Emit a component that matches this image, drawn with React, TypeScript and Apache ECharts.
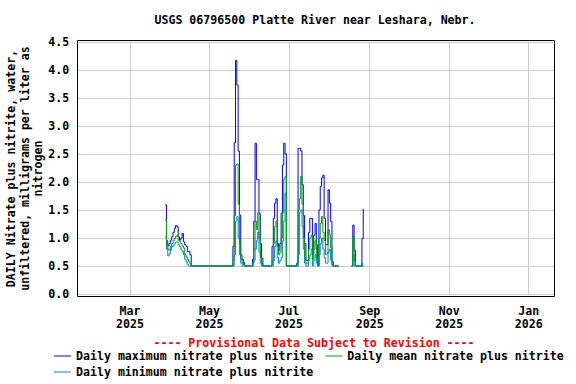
import React, { useEffect, useRef } from 'react';
import * as echarts from 'echarts';

// First daily value is for 2025-03-28; one value per day, null = no data.
const firstDay = [2025, 3, 28];

const dailyMax = [
  1.59, 0.95, 0.86, 0.9, 0.96, 1.02, 1.1, 1.17, 1.22, 1.2, 1.02, 0.96, 1.0, 1.08, 0.93, 0.88, 0.85, 0.76, 0.76, 0.7, 0.5,
  0.5, 0.5, 0.5, 0.5, 0.5, 0.5, 0.5, 0.5, 0.5, 0.5,
  0.5, 0.5, 0.5, 0.5, 0.5, 0.5, 0.5, 0.5, 0.5, 0.5,
  0.5, 0.5, 0.5, 0.5, 0.5, 0.5, 0.5, 0.5, 0.5, 0.5,
  0.5,
  0.85, 2.7, 4.17, 3.73, 2.55, 1.41, 0.7, 0.62, 0.56, 0.5,
  0.5, 0.5, 0.5, 0.5, 0.5,
  0.62, 1.3, 2.69, 2.04, 2.04, 1.44, 0.9, 0.64, 0.5,
  0.5, 0.5, 0.5, 0.5, 0.5, 0.5,
  0.85, 1.35, 1.62, 1.7, 0.9, 0.78, 0.9, 1.44, 2.3, 2.69, 2.5, 0.5,
  0.5, 0.5, 0.5, 0.5, 0.5, 0.5, 0.5,
  0.55, 2.6, 2.6, 2.55, 1.95, 1.4, 0.9,
  0.6, 0.6, 1.1, 1.35, 1.35, 0.7, 1.05, 1.26, 0.88, 0.5, 1.5, 1.92, 2.07, 2.12, 1.35, 0.88, 0.88, 1.86, 1.62, 1.29, 0.58, 0.5, 0.5, 0.5, 0.5,
  null, null, null, null, null, null, null, null, null, null,
  0.5, 1.23, 0.78, 0.5, 0.5, 0.5, 0.5, 0.5, 0.99, 1.52,
];

const dailyMean = [
  1.32, 0.9, 0.8, 0.78, 0.85, 0.9, 0.95, 0.99, 1.03, 1.05, 0.96, 0.93, 0.9, 0.86, 0.82, 0.7, 0.66, 0.62, 0.58, 0.54, 0.5,
  0.5, 0.5, 0.5, 0.5, 0.5, 0.5, 0.5, 0.5, 0.5, 0.5,
  0.5, 0.5, 0.5, 0.5, 0.5, 0.5, 0.5, 0.5, 0.5, 0.5,
  0.5, 0.5, 0.5, 0.5, 0.5, 0.5, 0.5, 0.5, 0.5, 0.5,
  0.5,
  0.6, 1.4, 2.3, 2.32, 1.6, 0.93, 0.62, 0.56, 0.52, 0.5,
  0.5, 0.5, 0.5, 0.5, 0.5,
  0.55, 0.8, 1.3, 1.15, 1.45, 1.0, 0.65, 0.55, 0.5,
  0.5, 0.5, 0.5, 0.5, 0.5, 0.5,
  0.6, 0.9, 1.2, 1.3, 0.85, 0.7, 0.75, 1.0, 1.45, 2.05, 2.1, 0.5,
  0.5, 0.5, 0.5, 0.5, 0.5, 0.5, 0.5,
  0.5, 1.5, 1.7, 2.1, 1.6, 1.0, 0.65,
  0.55, 0.55, 0.8, 1.0, 1.05, 0.62, 0.8, 0.95, 0.65, 0.5, 1.0, 1.26, 1.38, 1.1, 0.95, 0.7, 0.72, 1.15, 1.05, 0.82, 0.53, 0.5, 0.5, 0.5, 0.5,
  null, null, null, null, null, null, null, null, null, null,
  0.5, 1.05, 0.6, 0.5, 0.5, 0.5, 0.5, 0.5, 0.55, 0.55,
];

const dailyMin = [
  1.02, 0.8, 0.68, 0.72, 0.78, 0.84, 0.87, 0.9, 0.93, 0.92, 0.88, 0.85, 0.8, 0.76, 0.7, 0.62, 0.57, 0.53, 0.5, 0.5, 0.5,
  0.5, 0.5, 0.5, 0.5, 0.5, 0.5, 0.5, 0.5, 0.5, 0.5,
  0.5, 0.5, 0.5, 0.5, 0.5, 0.5, 0.5, 0.5, 0.5, 0.5,
  0.5, 0.5, 0.5, 0.5, 0.5, 0.5, 0.5, 0.5, 0.5, 0.5,
  0.5,
  0.5, 0.7, 1.3, 1.38, 1.0, 0.7, 0.55, 0.5, 0.5, 0.5,
  0.5, 0.5, 0.5, 0.5, 0.5,
  0.5, 0.6, 0.8, 0.95, 1.1, 0.75, 0.55, 0.5, 0.5,
  0.5, 0.5, 0.5, 0.5, 0.5, 0.5,
  0.5, 0.6, 0.85, 0.95, 0.65, 0.55, 0.6, 0.65, 0.95, 1.3, 1.8, 0.5,
  0.5, 0.5, 0.5, 0.5, 0.5, 0.5, 0.5,
  0.5, 0.7, 1.45, 1.5, 1.2, 0.8, 0.55,
  0.5, 0.5, 0.6, 0.7, 0.8, 0.5, 0.6, 0.7, 0.55, 0.5, 0.7, 0.9, 1.0, 0.8, 0.65, 0.55, 0.55, 0.75, 0.8, 0.6, 0.5, 0.5, 0.5, 0.5, 0.5,
  null, null, null, null, null, null, null, null, null, null,
  0.5, 0.7, 0.5, 0.5, 0.5, 0.5, 0.5, 0.5, 0.5, 0.52,
];

const tickDates = [
  [2025, 3, 1], [2025, 5, 1], [2025, 7, 1], [2025, 9, 1], [2025, 11, 1], [2026, 1, 1],
];
const tickLabels = ['Mar\n2025', 'May\n2025', 'Jul\n2025', 'Sep\n2025', 'Nov\n2025', 'Jan\n2026'];

const seriesNames = [
  'Daily maximum nitrate plus nitrite',
  'Daily mean nitrate plus nitrite',
  'Daily minimum nitrate plus nitrite',
];

const titleText = 'USGS 06796500 Platte River near Leshara, Nebr.';
const provisionalText = '---- Provisional Data Subject to Revision ----';
const yAxisTitle = 'DAILY Nitrate plus nitrite, water,\nunfiltered, milligrams per liter as\nnitrogen';

const FONT = "'DejaVu Sans Mono', monospace";

function localTs(y: number, m: number, d: number, h = 0) {
  return new Date(y, m - 1, d, h).getTime();
}

export default function App() {
  const ref = useRef<HTMLDivElement>(null);

  useEffect(() => {
    if (!ref.current) return;
    const chart = echarts.init(ref.current, undefined, { renderer: 'svg' });

    const dayTs = (i: number) => localTs(firstDay[0], firstDay[1], firstDay[2] + i);
    const toData = (arr: (number | null)[]) => arr.map((v, i) => [dayTs(i), v]);
    const tickTs = tickDates.map((d) => localTs(d[0], d[1], d[2]));

    const textBase = { fontFamily: FONT, fontWeight: 'bold' as const, fontSize: 11.6, color: '#000' };

    chart.setOption({
      animation: false,
      backgroundColor: '#ffffff',
      grid: { left: 77.3, right: 21.7, top: 41.8, bottom: 90, containLabel: false },
      xAxis: {
        type: 'value',
        min: localTs(2025, 1, 19, 14),
        max: localTs(2026, 1, 20, 15),
        axisLine: { show: false },
        axisTick: { show: false, customValues: tickTs },
        splitLine: { show: true, lineStyle: { color: '#cccccc', width: 1 } },
        axisLabel: {
          customValues: tickTs,
          formatter: (v: number) => {
            const idx = tickTs.indexOf(v);
            return idx >= 0 ? tickLabels[idx] : '';
          },
          margin: 10,
          lineHeight: 13.6,
          ...textBase,
        },
      },
      yAxis: {
        type: 'value',
        min: 0,
        max: 4.5,
        interval: 0.5,
        axisLine: { show: false },
        axisTick: { show: false },
        splitLine: { show: true, lineStyle: { color: '#cccccc', width: 1 } },
        axisLabel: {
          formatter: (v: number) => v.toFixed(1),
          margin: 8,
          ...textBase,
        },
      },
      legend: [
        {
          data: [seriesNames[0], seriesNames[1]],
          left: 54,
          top: 350,
          padding: 0,
          icon: 'rect',
          itemWidth: 17,
          itemHeight: 1,
          itemGap: 12,
          textStyle: { ...textBase },
        },
        {
          data: [seriesNames[2]],
          left: 54,
          top: 366,
          padding: 0,
          icon: 'rect',
          itemWidth: 17,
          itemHeight: 1,
          textStyle: { ...textBase },
        },
      ],
      series: [
        {
          name: seriesNames[0],
          type: 'line',
          step: 'end',
          symbol: 'none',
          connectNulls: false,
          lineStyle: { color: '#0000ff', width: 1 },
          itemStyle: { color: '#0000ff' },
          data: toData(dailyMax),
          z: 2,
        },
        {
          name: seriesNames[2],
          type: 'line',
          step: 'end',
          symbol: 'none',
          connectNulls: false,
          lineStyle: { color: '#0087d2', width: 1 },
          itemStyle: { color: '#0087d2' },
          data: toData(dailyMin),
          z: 3,
        },
        {
          name: seriesNames[1],
          type: 'line',
          step: 'end',
          symbol: 'none',
          connectNulls: false,
          lineStyle: { color: '#00a000', width: 1 },
          itemStyle: { color: '#00a000' },
          data: toData(dailyMean),
          z: 4,
        },
      ],
      graphic: [
        {
          type: 'rect',
          shape: { x: 77.5, y: 40.5, width: 477, height: 256 },
          style: { fill: 'none', stroke: '#000000', lineWidth: 1 },
          z: 100,
          silent: true,
        },
        {
          type: 'text',
          x: 315,
          y: 20,
          style: {
            text: titleText,
            font: `bold 11.6px ${FONT}`,
            fill: '#000',
            textAlign: 'center',
            textVerticalAlign: 'middle',
          },
        },
        {
          type: 'text',
          x: 314,
          y: 342.5,
          style: {
            text: provisionalText,
            font: `bold 11.6px ${FONT}`,
            fill: '#ff0000',
            textAlign: 'center',
            textVerticalAlign: 'middle',
          },
        },
        {
          type: 'text',
          x: 24.5,
          y: 168.5,
          rotation: Math.PI / 2,
          style: {
            text: yAxisTitle,
            font: `bold 11.6px ${FONT}`,
            fill: '#000',
            lineHeight: 13.3,
            textAlign: 'center',
            textVerticalAlign: 'middle',
          },
        },
      ],
    });

    return () => chart.dispose();
  }, []);

  return (
    <div
      ref={ref}
      style={{ position: 'absolute', left: 0, top: 0, width: 576, height: 384, background: '#fff' }}
    />
  );
}
